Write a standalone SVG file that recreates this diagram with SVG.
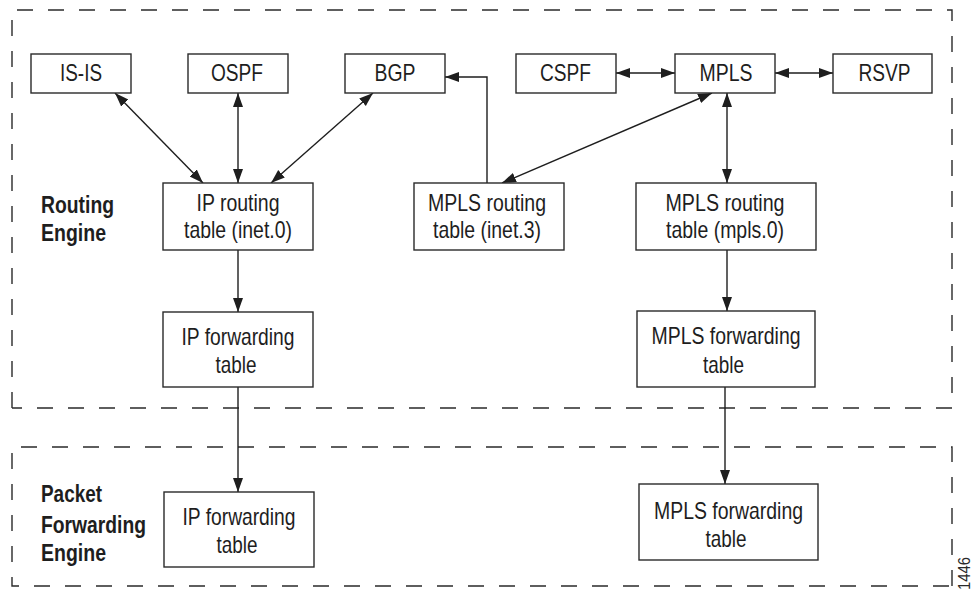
<svg xmlns="http://www.w3.org/2000/svg" width="973" height="590" viewBox="0 0 973 590">
<style>
.bg{fill:#fff}
.box{fill:#fff;stroke:#2a2a2a;stroke-width:1.4}
.dash{fill:none;stroke:#2a2a2a;stroke-width:1.4;stroke-dasharray:16 15}
.t{font-family:"Liberation Sans",Arial,sans-serif;font-size:24px;fill:#1e1e1e;text-anchor:middle}
.lb{font-family:"Liberation Sans",Arial,sans-serif;font-size:23px;font-weight:bold;fill:#1e1e1e}
.c{fill:none;stroke:#1e1e1e;stroke-width:1.4}
.id{font-family:"Liberation Sans",Arial,sans-serif;font-size:17px;fill:#2a2a2a}
</style>
<defs>
<marker id="ah" markerUnits="userSpaceOnUse" markerWidth="15" markerHeight="11" refX="14" refY="5" orient="auto-start-reverse">
<path d="M0,0 L14,5 L0,10 z" fill="#1e1e1e"/>
</marker>
</defs>
<rect class="bg" x="0" y="0" width="973" height="590"/>
<g id="regions">
<path class="dash" d="M12,408 V10 H952 V408 H12"/>
<path class="dash" d="M952,586 V447 H12 V586 H952"/>
</g>
<g id="region-labels">
<text class="lb" x="41" y="213" textLength="73" lengthAdjust="spacingAndGlyphs">Routing</text>
<text class="lb" x="41" y="241" textLength="65" lengthAdjust="spacingAndGlyphs">Engine</text>
<text class="lb" x="41" y="502" textLength="61" lengthAdjust="spacingAndGlyphs">Packet</text>
<text class="lb" x="41" y="533" textLength="105" lengthAdjust="spacingAndGlyphs">Forwarding</text>
<text class="lb" x="41" y="561" textLength="65" lengthAdjust="spacingAndGlyphs">Engine</text>
</g>
<g id="connectors">
<line class="c" x1="115" y1="93" x2="203" y2="183" marker-start="url(#ah)" marker-end="url(#ah)"/>
<line class="c" x1="238" y1="93" x2="238" y2="183" marker-start="url(#ah)" marker-end="url(#ah)"/>
<line class="c" x1="373" y1="93" x2="271" y2="183" marker-start="url(#ah)" marker-end="url(#ah)"/>
<path class="c" d="M487,183 V77 H445" marker-end="url(#ah)"/>
<line class="c" x1="712" y1="93" x2="502" y2="183" marker-start="url(#ah)" marker-end="url(#ah)"/>
<line class="c" x1="616" y1="73" x2="675" y2="73" marker-start="url(#ah)" marker-end="url(#ah)"/>
<line class="c" x1="775" y1="73" x2="833" y2="73" marker-start="url(#ah)" marker-end="url(#ah)"/>
<line class="c" x1="727" y1="93" x2="727" y2="183" marker-start="url(#ah)" marker-end="url(#ah)"/>
<line class="c" x1="727" y1="250" x2="727" y2="311" marker-end="url(#ah)"/>
<line class="c" x1="238" y1="250" x2="238" y2="312" marker-end="url(#ah)"/>
<line class="c" x1="238" y1="387" x2="238" y2="492" marker-end="url(#ah)"/>
<line class="c" x1="725" y1="387" x2="725" y2="484" marker-end="url(#ah)"/>
</g>
<g id="isis">
<rect class="box" x="31" y="54" width="100" height="39"/>
<text class="t" x="81" y="81" textLength="42" lengthAdjust="spacingAndGlyphs">IS-IS</text>
</g>
<g id="ospf">
<rect class="box" x="188" y="54" width="100" height="39"/>
<text class="t" x="237" y="81" textLength="52" lengthAdjust="spacingAndGlyphs">OSPF</text>
</g>
<g id="bgp">
<rect class="box" x="345" y="54" width="100" height="39"/>
<text class="t" x="395" y="81" textLength="41" lengthAdjust="spacingAndGlyphs">BGP</text>
</g>
<g id="cspf">
<rect class="box" x="516" y="54" width="100" height="39"/>
<text class="t" x="565.5" y="81" textLength="51" lengthAdjust="spacingAndGlyphs">CSPF</text>
</g>
<g id="mpls">
<rect class="box" x="675" y="54" width="100" height="39"/>
<text class="t" x="726" y="81" textLength="53" lengthAdjust="spacingAndGlyphs">MPLS</text>
</g>
<g id="rsvp">
<rect class="box" x="833" y="54" width="99" height="39"/>
<text class="t" x="884.5" y="81" textLength="52" lengthAdjust="spacingAndGlyphs">RSVP</text>
</g>
<g id="ip-routing">
<rect class="box" x="163" y="183" width="150" height="67"/>
<text class="t" x="238" y="211" textLength="83" lengthAdjust="spacingAndGlyphs">IP routing</text>
<text class="t" x="238" y="238" textLength="108" lengthAdjust="spacingAndGlyphs">table (inet.0)</text>
</g>
<g id="mpls-inet3">
<rect class="box" x="414" y="183" width="150" height="67"/>
<text class="t" x="487" y="211" textLength="118" lengthAdjust="spacingAndGlyphs">MPLS routing</text>
<text class="t" x="487" y="238" textLength="108" lengthAdjust="spacingAndGlyphs">table (inet.3)</text>
</g>
<g id="mpls-mpls0">
<rect class="box" x="636" y="183" width="180" height="67"/>
<text class="t" x="725" y="211" textLength="119" lengthAdjust="spacingAndGlyphs">MPLS routing</text>
<text class="t" x="725" y="238" textLength="118" lengthAdjust="spacingAndGlyphs">table (mpls.0)</text>
</g>
<g id="ip-fwd-re">
<rect class="box" x="163" y="312" width="150" height="75"/>
<text class="t" x="238" y="345" textLength="113" lengthAdjust="spacingAndGlyphs">IP forwarding</text>
<text class="t" x="236" y="373" textLength="41" lengthAdjust="spacingAndGlyphs">table</text>
</g>
<g id="mpls-fwd-re">
<rect class="box" x="637" y="311" width="178" height="76"/>
<text class="t" x="726" y="344" textLength="149" lengthAdjust="spacingAndGlyphs">MPLS forwarding</text>
<text class="t" x="723.5" y="373" textLength="41" lengthAdjust="spacingAndGlyphs">table</text>
</g>
<g id="ip-fwd-pfe">
<rect class="box" x="164" y="492" width="150" height="75"/>
<text class="t" x="239" y="525" textLength="113" lengthAdjust="spacingAndGlyphs">IP forwarding</text>
<text class="t" x="237" y="553" textLength="41" lengthAdjust="spacingAndGlyphs">table</text>
</g>
<g id="mpls-fwd-pfe">
<rect class="box" x="639" y="484" width="179" height="76"/>
<text class="t" x="728.5" y="519" textLength="149" lengthAdjust="spacingAndGlyphs">MPLS forwarding</text>
<text class="t" x="726" y="547" textLength="41" lengthAdjust="spacingAndGlyphs">table</text>
</g>
<text class="id" transform="translate(970,590) rotate(-90)" textLength="33" lengthAdjust="spacingAndGlyphs">1446</text>
</svg>
